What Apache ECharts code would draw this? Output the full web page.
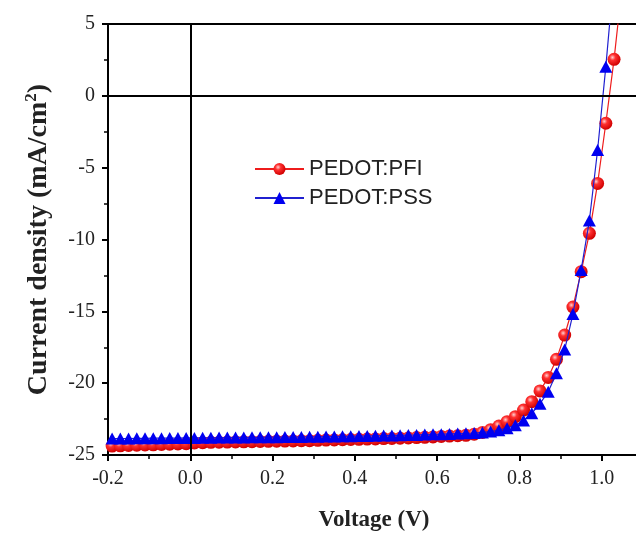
<!DOCTYPE html>
<html>
<head>
<meta charset="utf-8">
<script src="https://cdn.jsdelivr.net/npm/echarts@6/dist/echarts.min.js"></script>
<style>
  html, body { margin: 0; padding: 0; background: #fff; }
  #chart { width: 636px; height: 533px; }
</style>
</head>
<body>
<div id="chart"></div>
<script>
// J-V sweep: bias voltage (V)
const voltage = [
  -0.19, -0.17, -0.15, -0.13, -0.11, -0.09, -0.07, -0.05, -0.03, -0.01,
   0.01,  0.03,  0.05,  0.07,  0.09,  0.11,  0.13,  0.15,  0.17,  0.19,
   0.21,  0.23,  0.25,  0.27,  0.29,  0.31,  0.33,  0.35,  0.37,  0.39,
   0.41,  0.43,  0.45,  0.47,  0.49,  0.51,  0.53,  0.55,  0.57,  0.59,
   0.61,  0.63,  0.65,  0.67,  0.69,  0.71,  0.73,  0.75,  0.77,  0.79,
   0.81,  0.83,  0.85,  0.87,  0.89,  0.91,  0.93,  0.95,  0.97,  0.99,
   1.01,  1.03,  1.05
];

// Current density (mA/cm^2), PEDOT:PFI device
const jPFI = [
  -24.38, -24.36, -24.34, -24.32, -24.30, -24.29, -24.27, -24.25, -24.23, -24.21,
  -24.16, -24.14, -24.12, -24.11, -24.10, -24.09, -24.08, -24.07, -24.06, -24.05,
  -24.04, -24.03, -24.02, -24.01, -24.00, -23.98, -23.96, -23.95, -23.94, -23.92,
  -23.91, -23.89, -23.88, -23.86, -23.85, -23.83, -23.81, -23.79, -23.77, -23.74,
  -23.71, -23.68, -23.66, -23.63, -23.55, -23.43, -23.24, -22.98, -22.68, -22.33,
  -21.87, -21.29, -20.54, -19.60, -18.34, -16.65, -14.70, -12.24, -9.57, -6.10,
  -1.91, 2.54, 7.8
];

// Current density (mA/cm^2), PEDOT:PSS device
const jPSS = [
  -23.86, -23.85, -23.85, -23.84, -23.84, -23.83, -23.83, -23.82, -23.82, -23.81,
  -23.81, -23.80, -23.80, -23.79, -23.79, -23.78, -23.78, -23.77, -23.77, -23.76,
  -23.76, -23.75, -23.75, -23.74, -23.73, -23.73, -23.72, -23.71, -23.70, -23.69,
  -23.68, -23.67, -23.66, -23.65, -23.64, -23.63, -23.61, -23.60, -23.58, -23.56,
  -23.55, -23.53, -23.51, -23.49, -23.47, -23.43, -23.37, -23.27, -23.13, -22.93,
  -22.60, -22.10, -21.43, -20.59, -19.31, -17.66, -15.19, -12.12, -8.68, -3.77,
  2.03, 8.5
];

const seriesNames = ['PEDOT:PFI', 'PEDOT:PSS'];
const xRange = { min: -0.2, max: 1.2, step: 0.2 };
const yRange = { min: -25, max: 5, step: 5 };

const pairs = (xs, ys) => ys.map((y, i) => [xs[i], y]);

const serif = 'Liberation Serif';
const sans = 'Liberation Sans';

const chart = echarts.init(document.getElementById('chart'), null, { renderer: 'canvas' });

const redBall = {
  type: 'radial', x: 0.38, y: 0.35, r: 0.65,
  colorStops: [
    { offset: 0, color: '#ffd0d0' },
    { offset: 0.35, color: '#ff3030' },
    { offset: 1, color: '#d00000' }
  ]
};

chart.setOption({
  animation: false,
  backgroundColor: '#ffffff',
  grid: {
    left: 108, top: 24, width: 576, height: 431,
    outerBoundsMode: 'none', containLabel: false,
    show: true, borderColor: '#000', borderWidth: 2, backgroundColor: 'transparent'
  },
  legend: {
    orient: 'vertical',
    left: 249, top: 153,
    itemWidth: 49, itemHeight: 15, itemGap: 7,
    textStyle: { fontFamily: sans, fontSize: 22, color: '#222' },
    data: seriesNames
  },
  xAxis: {
    type: 'value',
    min: xRange.min, max: xRange.max, interval: xRange.step,
    name: 'Voltage (V)',
    nameLocation: 'middle',
    nameGap: 54,
    nameTextStyle: {
      fontFamily: serif, fontWeight: 'bold', fontSize: 23, color: '#222',
      padding: [0, 44, 0, 0]
    },
    axisLine: { onZero: false, lineStyle: { color: '#000', width: 2 } },
    axisTick: { inside: false, length: 6, lineStyle: { color: '#000', width: 2 } },
    minorTick: { show: true, splitNumber: 2, length: 4, lineStyle: { color: '#000', width: 1.5 } },
    axisLabel: {
      margin: 14, fontFamily: serif, fontSize: 20, color: '#222',
      formatter: v => v.toFixed(1)
    },
    splitLine: { show: false }
  },
  yAxis: {
    type: 'value',
    min: yRange.min, max: yRange.max, interval: yRange.step,
    name: '{a|Current density (mA/cm}{s|2}{a|)}',
    nameLocation: 'middle',
    nameGap: 53,
    nameTextStyle: {
      rich: {
        a: { fontFamily: serif, fontWeight: 'bold', fontSize: 28, color: '#222', lineHeight: 32 },
        s: { fontFamily: serif, fontWeight: 'bold', fontSize: 17, color: '#222', verticalAlign: 'top', lineHeight: 32 }
      }
    },
    axisLine: { onZero: false, lineStyle: { color: '#000', width: 2 } },
    axisTick: { inside: false, length: 6, lineStyle: { color: '#000', width: 2 } },
    minorTick: { show: true, splitNumber: 2, length: 4, lineStyle: { color: '#000', width: 1.5 } },
    axisLabel: { margin: 13, fontFamily: serif, fontSize: 20, color: '#222' },
    splitLine: { show: false }
  },
  series: [
    {
      // zero reference lines
      type: 'line', data: [], z: 1, silent: true,
      markLine: {
        silent: true, symbol: 'none', animation: false,
        label: { show: false },
        lineStyle: { color: '#000', width: 2, type: 'solid' },
        data: [{ xAxis: 0 }, { yAxis: 0 }]
      }
    },
    {
      name: seriesNames[0],
      type: 'line', z: 3,
      data: pairs(voltage, jPFI),
      symbol: 'circle', symbolSize: 13,
      itemStyle: { color: redBall, borderWidth: 0 },
      lineStyle: { color: '#ee1c1c', width: 1.2 },
      clip: true
    },
    {
      name: seriesNames[1],
      type: 'line', z: 4,
      data: pairs(voltage, jPSS),
      symbol: 'triangle', symbolSize: [13, 12],
      itemStyle: { color: '#0000f0', borderWidth: 0 },
      lineStyle: { color: '#2020d0', width: 1.2 },
      clip: true
    }
  ]
});
</script>
</body>
</html>
